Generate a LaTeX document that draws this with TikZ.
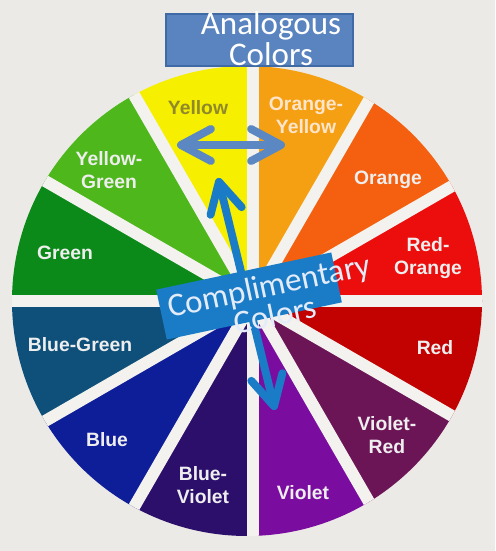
\documentclass[tikz,border=0pt]{standalone}
\usepackage{fontspec}
\newfontfamily\wheelfont{Liberation Sans}
\newfontfamily\calloutfont{Carlito}
\usetikzlibrary{arrows.meta,positioning}
\definecolor{bg}{HTML}{EBEAE6}
\definecolor{gap}{HTML}{F3F2EE}
\definecolor{cyellow}{HTML}{F6EF00}
\definecolor{corangeyellow}{HTML}{F5A012}
\definecolor{corange}{HTML}{F4600F}
\definecolor{credorange}{HTML}{EC0D0D}
\definecolor{cred}{HTML}{C20101}
\definecolor{cvioletred}{HTML}{6B1456}
\definecolor{cviolet}{HTML}{7A0DA0}
\definecolor{cblueviolet}{HTML}{2B0F6B}
\definecolor{cblue}{HTML}{0E1D98}
\definecolor{cbluegreen}{HTML}{0E5079}
\definecolor{cgreen}{HTML}{0B8A19}
\definecolor{cyellowgreen}{HTML}{4DB71B}
\definecolor{lbl}{HTML}{EEEEEE}
\definecolor{anafill}{HTML}{5984BF}
\definecolor{anaedge}{HTML}{3F6AA6}
\definecolor{anaarrow}{HTML}{5B87C2}
\definecolor{compblue}{HTML}{1A7CC6}
\definecolor{comptext}{HTML}{E4ECFA}
\tikzset{
  wedgelabel/.style={text=lbl, font=\wheelfont\bfseries\fontsize{11}{13}\selectfont, align=center, inner sep=0pt},
  gapline/.style={draw=gap, line width=6.8pt},
  bigarrow/.style={line width=4.5pt, {Straight Barb[length=6mm,width=6.4mm,round]}-{Straight Barb[length=6mm,width=6.4mm,round]}},
  calloutbox/.style={minimum width=#1, inner sep=0pt},
  callouttext/.style={font=\calloutfont\fontsize{18.8}{15}\selectfont, align=center, inner sep=0pt}
}

\begin{document}
\begin{tikzpicture}[x=0.02cm, y=0.02cm]
		\fill[bg] (0,0) rectangle (495,551);
		\useasboundingbox (0,0) rectangle (495,551);
		\coordinate (c) at (253,250);
		\coordinate (rim) at (247,250);

		\begin{scope}
			\clip (rim) circle[radius=235];
			\foreach \a/\col in {90/cyellow, 120/cyellowgreen, 150/cgreen, 180/cbluegreen, 210/cblue, 240/cblueviolet, 270/cviolet, 300/cvioletred, 330/cred, 0/credorange, 30/corange, 60/corangeyellow}
				\fill[\col] (c) -- +(\a:320) -- +(\a+30:320) -- cycle;
			\foreach \a in {0,30,...,150}
				\draw[gapline] (c) ++(\a:260) -- ++(\a+180:520);
		\end{scope}

		\node[wedgelabel, text=olive!70!gray] (yellow) at (198,443) {Yellow};
		\node[wedgelabel, text=orange!20!white] (orangeyellow) at (306,436) {Orange-\\Yellow};
		\node[wedgelabel] (orange) at (388,371) {Orange};
		\node[wedgelabel] (redorange) at (428,293) {Red-\\Orange};
		\node[wedgelabel] (red) at (435,203) {Red};
		\node[wedgelabel] (violetred) at (387,116) {Violet-\\Red};
		\node[wedgelabel] (violet) at (303,58) {Violet};
		\node[wedgelabel] (blueviolet) at (203,66) {Blue-\\Violet};
		\node[wedgelabel] (blue) at (107,111) {Blue};
		\node[wedgelabel] (bluegreen) at (80,206) {Blue-Green};
		\node[wedgelabel] (green) at (65,298) {Green};
		\node[wedgelabel] (yellowgreen) at (109,381) {Yellow-\\Green};

		\coordinate (ana-left) at (177,406);
		\coordinate (ana-right) at (285,406);
		\draw[bigarrow, anaarrow] (ana-left) -- (ana-right);

		\coordinate (comp-up) at (218,373);
		\coordinate (comp-down) at (275,141);
		\draw[bigarrow, compblue] (comp-up) -- (comp-down);

		\node[calloutbox=3.58cm, minimum height=1.02cm, fill=compblue, rotate=12] (compbox) at (249,255) {};
		\node[callouttext, text=comptext, rotate=12] (comptextnode) at (272,251) {Complimentary\\Colors};

		\node[calloutbox=3.74cm, minimum height=1.04cm, fill=anafill, draw=anaedge, line width=1pt] (anabox) at (259.5,511) {};
		\node[callouttext, text=white] (anatext) at (271,512.5) {Analogous\\Colors};
	\end{tikzpicture}
\end{document}
